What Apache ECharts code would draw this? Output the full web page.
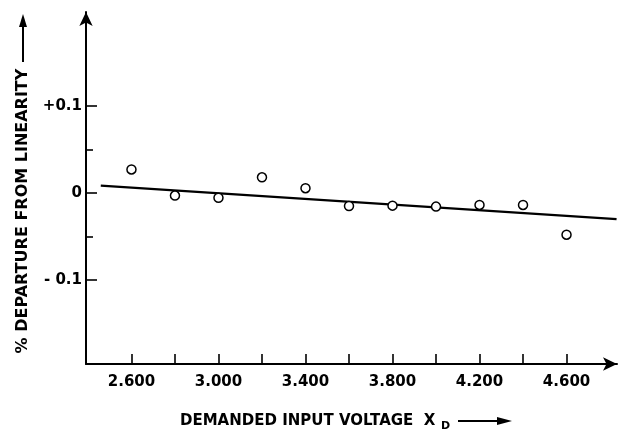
<!DOCTYPE html>
<html>
<head>
<meta charset="utf-8">
<script src="https://cdn.jsdelivr.net/npm/echarts@6/dist/echarts.min.js"></script>
<style>html,body{margin:0;padding:0;background:#fff}#c{width:618px;height:432px}</style>
</head>
<body>
<div id="c"></div>
<script>
// Data
const inputVoltage = [2.6, 2.8, 3.0, 3.2, 3.4, 3.6, 3.8, 4.0, 4.2, 4.4, 4.6];
const departure = [0.027, -0.003, -0.0055, 0.018, 0.0055, -0.015, -0.0146, -0.0157, -0.0138, -0.0138, -0.048];
const fitLineX = [2.459, 4.83];
const fitLineY = [0.0084, -0.030];
const xTickValues = [2.6, 2.8, 3.0, 3.2, 3.4, 3.6, 3.8, 4.0, 4.2, 4.4, 4.6];
const xLabelValues = [2.6, 3.0, 3.4, 3.8, 4.2, 4.6];
const yMajorTicks = [-0.1, 0, 0.1];
const yMinorTicks = [-0.05, 0.05];
const yTitle = '% DEPARTURE FROM LINEARITY';
const xTitle = 'DEMANDED INPUT VOLTAGE  X';
const xTitleSub = 'D';

const FONT = 'DejaVu Sans';
const chart = echarts.init(document.getElementById('c'), null, {renderer: 'canvas'});

const scatterData = inputVoltage.map((x, i) => [x, departure[i]]);
const lineData = fitLineX.map((x, i) => [x, fitLineY[i]]);

const yMin = -0.1966, yMax = 0.208;

chart.setOption({
  animation: false,
  backgroundColor: '#fff',
  grid: {left: 86, right: 1, top: 12, bottom: 68},
  xAxis: {
    type: 'value', min: 2.391, max: 4.832,
    splitLine: {show: false},
    axisLine: {show: true, onZero: false, lineStyle: {color: '#000', width: 2}, symbol: ['none', 'arrow'], symbolSize: [10, 14]},
    axisTick: {show: true, inside: true, length: 10, customValues: xTickValues, lineStyle: {color: '#000', width: 1.6}},
    axisLabel: {customValues: xLabelValues, margin: 11, color: '#000', fontFamily: FONT, fontWeight: 'bold', fontSize: 15,
      formatter: v => v.toFixed(3)}
  },
  yAxis: [{
    type: 'value', min: yMin, max: yMax,
    splitLine: {show: false},
    axisLine: {show: true, onZero: false, lineStyle: {color: '#000', width: 2}, symbol: ['none', 'arrow'], symbolSize: [10, 14]},
    axisTick: {show: true, inside: true, length: 11, customValues: yMajorTicks, lineStyle: {color: '#000', width: 1.6}},
    axisLabel: {customValues: yMajorTicks, margin: 4, color: '#000', fontFamily: FONT, fontWeight: 'bold', fontSize: 15,
      formatter: v => { const r = Math.round(v * 10) / 10; return r > 0 ? '+' + r.toFixed(1) : (r < 0 ? '- ' + Math.abs(r).toFixed(1) : '0'); }}
  }, {
    type: 'value', min: yMin, max: yMax, position: 'left',
    splitLine: {show: false},
    axisLine: {show: false, onZero: false},
    axisTick: {show: true, inside: true, length: 7, customValues: yMinorTicks, lineStyle: {color: '#000', width: 1.6}},
    axisLabel: {show: false}
  }],
  series: [{
    type: 'line', data: lineData, showSymbol: false, symbol: 'none', clip: false,
    lineStyle: {color: '#000', width: 2.2}, z: 2
  }, {
    type: 'scatter', data: scatterData, symbol: 'circle', symbolSize: 9,
    itemStyle: {color: '#fff', borderColor: '#000', borderWidth: 1.5, opacity: 1}, z: 3
  }],
  graphic: [
    {type: 'text', x: 23, y: 211, rotation: Math.PI / 2,
      style: {text: yTitle, fill: '#000', font: 'bold 16px "DejaVu Sans"', align: 'center', verticalAlign: 'middle'}},
    {type: 'polyline', shape: {points: [[23, 62], [23, 24]]}, style: {stroke: '#000', lineWidth: 2}},
    {type: 'polygon', shape: {points: [[23, 14], [19, 27], [27, 27]]}, style: {fill: '#000'}},
    {type: 'text', x: 180, y: 421,
      style: {text: xTitle, fill: '#000', font: 'bold 15px "DejaVu Sans"', align: 'left', verticalAlign: 'middle'}},
    {type: 'text', x: 441, y: 426,
      style: {text: xTitleSub, fill: '#000', font: 'bold 11px "DejaVu Sans"', align: 'left', verticalAlign: 'middle'}},
    {type: 'polyline', shape: {points: [[458, 421], [500, 421]]}, style: {stroke: '#000', lineWidth: 2}},
    {type: 'polygon', shape: {points: [[512, 421], [497, 417], [497, 425]]}, style: {fill: '#000'}}
  ]
});
</script>
</body>
</html>
